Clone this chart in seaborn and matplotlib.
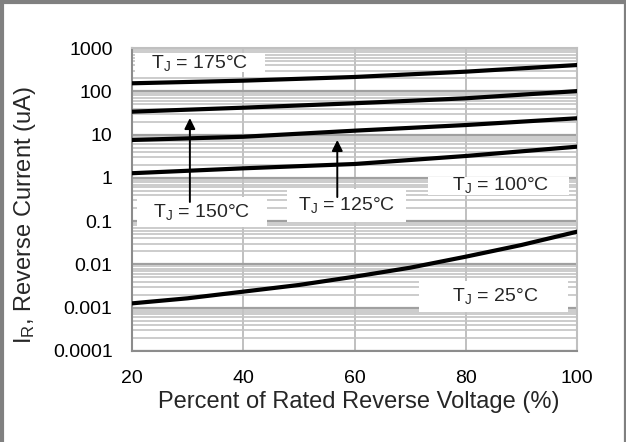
import matplotlib
matplotlib.use("Agg")
import matplotlib.pyplot as plt
import numpy as np
import pandas as pd
import seaborn as sns
from matplotlib.lines import Line2D
from matplotlib.patches import Rectangle
from matplotlib.ticker import FixedLocator, LogLocator, NullFormatter

# percent of rated reverse voltage
pct_hot = [20, 40, 60, 80, 100]
pct_25 = [20, 30, 40, 50, 60, 70, 80, 90, 100]

# reverse current (uA)
ir_175 = [153, 176, 214, 284, 404]
ir_150 = [33.8, 41.8, 52.9, 68.9, 101]
ir_125 = [7.5, 8.9, 12.3, 16.6, 23.8]
ir_100 = [1.28, 1.66, 2.09, 3.2, 5.25]
ir_25 = [0.00126, 0.00165, 0.00235, 0.00335, 0.00521, 0.0084, 0.0151, 0.0281, 0.057]

y_ticks = [0.0001, 0.001, 0.01, 0.1, 1, 10, 100, 1000]
y_tick_labels = ["0.0001", "0.001", "0.01", "0.1", "1", "10", "100", "1000"]
x_ticks = [20, 40, 60, 80, 100]

frames = []
for temp, xs, ys in [(175, pct_hot, ir_175), (150, pct_hot, ir_150), (125, pct_hot, ir_125),
                     (100, pct_hot, ir_100), (25, pct_25, ir_25)]:
    frames.append(pd.DataFrame({"pct": xs, "current": ys, "temp": temp}))
df = pd.concat(frames, ignore_index=True)

sns.set_theme(style="white")
plt.rcParams["font.family"] = ["Liberation Sans", "DejaVu Sans"]
plt.rcParams["mathtext.default"] = "regular"

fig = plt.figure(figsize=(6.26, 4.42), dpi=100)
ax = fig.add_axes([0.2109, 0.2059, 0.7109, 0.6855])

sns.lineplot(data=df, x="pct", y="current", hue="temp", palette=["black"] * 5,
             linewidth=3, legend=False, errorbar=None, ax=ax, zorder=5)

ax.set_yscale("log")
ax.set_ylim(1e-4, 1000)
ax.set_xlim(20, 100)
ax.yaxis.set_major_locator(FixedLocator(y_ticks))
ax.set_yticklabels(y_tick_labels)
ax.yaxis.set_minor_locator(LogLocator(base=10, subs=np.arange(2, 10)))
ax.yaxis.set_minor_formatter(NullFormatter())
ax.set_xticks(x_ticks)
ax.tick_params(axis="both", which="both", length=0, labelsize=14, pad=14, colors="black")

ax.grid(True, which="major", axis="y", color="#a0a0a0", lw=1.6)
ax.grid(True, which="minor", axis="y", color="#c4c4c4", lw=1.2)
ax.grid(True, which="major", axis="x", color="#c0c0c0", lw=1.4)
ax.set_axisbelow(True)

for side in ["left", "bottom"]:
    ax.spines[side].set_color("#8c8c8c")
    ax.spines[side].set_linewidth(1.5)
for side in ["top", "right"]:
    ax.spines[side].set_color("#c0c0c0")
    ax.spines[side].set_linewidth(1.5)

ax.set_xlabel("Percent of Rated Reverse Voltage (%)", fontsize=17)
ax.set_ylabel("I$_\\mathregular{R}$, Reverse Current (uA)", fontsize=17, va="center")
ax.xaxis.label.set_va("baseline")
ax.xaxis.set_label_coords(0.509, -0.188)
ax.yaxis.set_label_coords(-0.24, 0.449)

# label text, its centre, and the white box behind it (x0, x1, y0, y1)
labels = [
    ("T$_\\mathregular{J}$ = 175°C", 32.2, 450, (20.5, 43.9, 279, 767)),
    ("T$_\\mathregular{J}$ = 150°C", 32.6, 0.163, (20.9, 44.3, 0.0733, 0.361)),
    ("T$_\\mathregular{J}$ = 125°C", 58.5, 0.236, (47.9, 69.3, 0.0957, 0.553)),
    ("T$_\\mathregular{J}$ = 100°C", 86.2, 0.684, (73.2, 98.6, 0.402, 1.047)),
    ("T$_\\mathregular{J}$ = 25°C", 85.3, 0.00187, (71.6, 98.4, 0.000797, 0.00415)),
]
for txt, lx, ly, (bx0, bx1, by0, by1) in labels:
    ax.add_patch(Rectangle((bx0, by0), bx1 - bx0, by1 - by0, fc="white", ec="none", zorder=4))
    ax.text(lx, ly, txt, ha="center", va="center", fontsize=14, zorder=6)

arrow = dict(arrowstyle="-|>", color="black", lw=1.4, mutation_scale=16, shrinkA=0, shrinkB=0)
ax.annotate("", xy=(30.4, 24.1), xytext=(30.4, 0.277), arrowprops=arrow, zorder=7)
ax.annotate("", xy=(56.9, 7.5), xytext=(56.9, 0.36), arrowprops=arrow, zorder=7)

# outer frame of the picture (bottom edge is cut off)
frame_kw = dict(color="#808080", transform=fig.transFigure)
fig.add_artist(Line2D([0.003, 0.003], [0, 1], lw=3, **frame_kw))
fig.add_artist(Line2D([0, 1], [0.995, 0.995], lw=3, **frame_kw))
fig.add_artist(Line2D([0.9985, 0.9985], [0, 1], lw=1.6, **frame_kw))

fig.savefig("out.png", dpi=100)
